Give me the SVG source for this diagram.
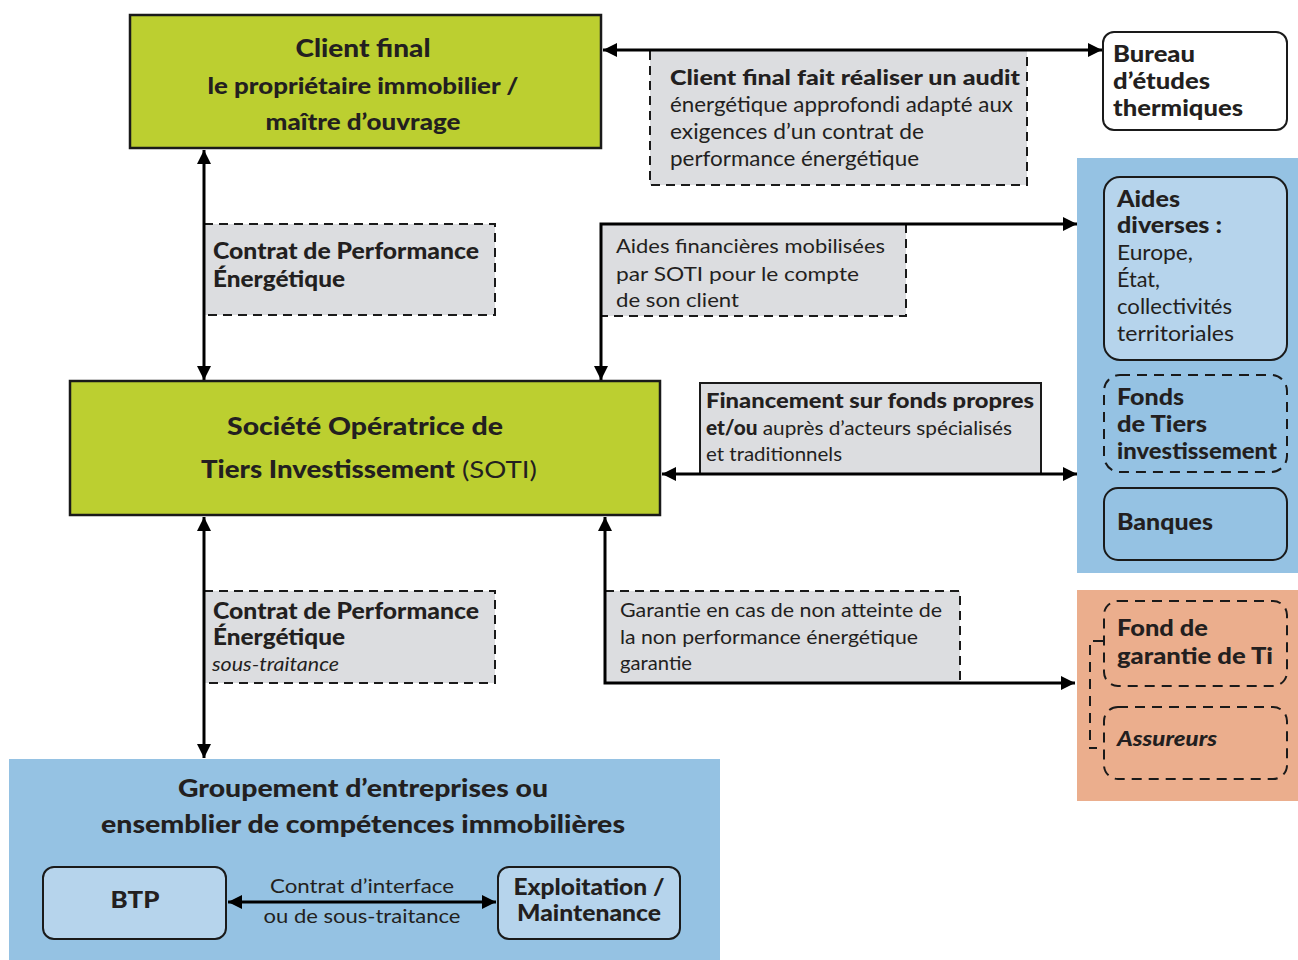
<svg xmlns="http://www.w3.org/2000/svg" width="1298" height="960" viewBox="0 0 1298 960">
  <defs>
    <marker id="ah" viewBox="0 0 10 10" refX="10" refY="5" markerWidth="14" markerHeight="15" markerUnits="userSpaceOnUse" orient="auto-start-reverse">
      <path d="M0,0 L10,5 L0,10 z" fill="#000"/>
    </marker>
  </defs>
  <style>
    text { font-family: Lato, "Liberation Sans", sans-serif; fill: #231f20; }
    .b { font-weight: 900; }
    .i { font-style: italic; }
    .mid { text-anchor: middle; }
    .green { fill: #bccf30; stroke: #1a1a1a; stroke-width: 2.5; }
    .tag { fill: #dcdde0; stroke: none; }
    .dash { fill: none; stroke: #1a1a1a; stroke-width: 2; stroke-dasharray: 9 6; }
    .rbox { stroke: #1a1a1a; stroke-width: 2; }
    .rdash { fill: none; stroke: #1a1a1a; stroke-width: 2; stroke-dasharray: 10 7; }
    .conn { fill: none; stroke: #000; stroke-width: 3; marker-start: url(#ah); marker-end: url(#ah); }
    .t20 { font-size: 20px; }
    .t21 { font-size: 21px; }
    .t22 { font-size: 22px; }
    .t24 { font-size: 24px; }
  </style>

  <!-- background panels -->
  <rect id="panel-financeurs" x="1077" y="158" width="221" height="415" fill="#95c2e3"/>
  <rect id="panel-garanties" x="1077" y="590" width="221" height="211" fill="#ebae8d"/>

  <!-- edge label boxes -->
  <g id="labels" lengthAdjust="spacingAndGlyphs">
    <g id="label-audit">
      <rect class="tag" x="650" y="51" width="377" height="134"/>
      <path class="dash" d="M650,51 V185 H1027 V51"/>
      <text class="t21 b" x="670" y="85" textLength="350" lengthAdjust="spacingAndGlyphs">Client final fait réaliser un audit</text>
      <text class="t21" x="670" y="112" textLength="343" lengthAdjust="spacingAndGlyphs">énergétique approfondi adapté aux</text>
      <text class="t21" x="670" y="139" textLength="254" lengthAdjust="spacingAndGlyphs">exigences d’un contrat de</text>
      <text class="t21" x="670" y="166" textLength="249" lengthAdjust="spacingAndGlyphs">performance énergétique</text>
    </g>
    <g id="label-cpe">
      <rect class="tag" x="204" y="224" width="291" height="91"/>
      <path class="dash" d="M204,224 H495 V315 H204"/>
      <text class="t22 b" x="213" y="259" textLength="266" lengthAdjust="spacingAndGlyphs">Contrat de Performance</text>
      <text class="t22 b" x="213" y="287" textLength="132" lengthAdjust="spacingAndGlyphs">Énergétique</text>
    </g>
    <g id="label-aides">
      <rect class="tag" x="601" y="224" width="305" height="92"/>
      <path class="dash" d="M906,224 V316 H601"/>
      <text class="t20" x="616" y="253" textLength="269" lengthAdjust="spacingAndGlyphs">Aides financières mobilisées</text>
      <text class="t20" x="616" y="281" textLength="243" lengthAdjust="spacingAndGlyphs">par SOTI pour le compte</text>
      <text class="t20" x="616" y="307" textLength="123" lengthAdjust="spacingAndGlyphs">de son client</text>
    </g>
    <g id="label-financement">
      <rect class="tag rbox" x="700" y="383" width="341" height="91"/>
      <text class="t20 b" x="706" y="408" textLength="328" lengthAdjust="spacingAndGlyphs">Financement sur fonds propres</text>
      <text class="t20" x="706" y="435" textLength="306" lengthAdjust="spacingAndGlyphs"><tspan class="b">et/ou</tspan> auprès d’acteurs spécialisés</text>
      <text class="t20" x="706" y="461" textLength="136" lengthAdjust="spacingAndGlyphs">et traditionnels</text>
    </g>
    <g id="label-cpe-st">
      <rect class="tag" x="204" y="591" width="291" height="92"/>
      <path class="dash" d="M204,591 H495 V683 H204"/>
      <text class="t22 b" x="213" y="619" textLength="266" lengthAdjust="spacingAndGlyphs">Contrat de Performance</text>
      <text class="t22 b" x="213" y="645" textLength="132" lengthAdjust="spacingAndGlyphs">Énergétique</text>
      <text class="t20 i" x="212" y="671" textLength="127" lengthAdjust="spacingAndGlyphs">sous-traitance</text>
    </g>
    <g id="label-garantie">
      <rect class="tag" x="605" y="591" width="355" height="92"/>
      <path class="dash" d="M605,591 H960 V683"/>
      <text class="t20" x="620" y="617" textLength="322" lengthAdjust="spacingAndGlyphs">Garantie en cas de non atteinte de</text>
      <text class="t20" x="620" y="644" textLength="298" lengthAdjust="spacingAndGlyphs">la non performance énergétique</text>
      <text class="t20" x="620" y="670" textLength="72" lengthAdjust="spacingAndGlyphs">garantie</text>
    </g>
  </g>

  <!-- connectors -->
  <g id="connectors">
    <path class="conn" d="M603,50 H1102"/>
    <path class="conn" d="M204,150 V380"/>
    <path class="conn" d="M1077,224 H601 V380"/>
    <path class="conn" d="M662,474 H1077"/>
    <path class="conn" d="M204,517 V758"/>
    <path class="conn" d="M605,517 V683 H1075"/>
  </g>

  <!-- main actors -->
  <g id="client-final">
    <rect class="green" x="130" y="15" width="471" height="133"/>
    <text class="t24 b mid" x="363" y="57" textLength="135" lengthAdjust="spacingAndGlyphs">Client final</text>
    <text class="t22 b mid" x="363" y="94" textLength="311" lengthAdjust="spacingAndGlyphs">le propriétaire immobilier /</text>
    <text class="t22 b mid" x="363" y="130" textLength="195" lengthAdjust="spacingAndGlyphs">maître d’ouvrage</text>
  </g>

  <g id="soti">
    <rect class="green" x="70" y="381" width="590" height="134"/>
    <text class="t24 b mid" x="365" y="435" textLength="276" lengthAdjust="spacingAndGlyphs">Société Opératrice de</text>
    <text class="t24 mid" x="369" y="478" textLength="336" lengthAdjust="spacingAndGlyphs"><tspan class="b">Tiers Investissement</tspan> (SOTI)</text>
  </g>

  <g id="bureau-etudes">
    <rect class="rbox" x="1103" y="32" width="184" height="98" rx="11" fill="#fff"/>
    <text class="t22 b" x="1113" y="62" textLength="82" lengthAdjust="spacingAndGlyphs">Bureau</text>
    <text class="t22 b" x="1113" y="89" textLength="97" lengthAdjust="spacingAndGlyphs">d’études</text>
    <text class="t22 b" x="1113" y="116" textLength="130" lengthAdjust="spacingAndGlyphs">thermiques</text>
  </g>

  <g id="aides-diverses">
    <rect class="rbox" x="1104" y="177" width="183" height="183" rx="16" fill="#b6d4ec"/>
    <text class="t22 b" x="1117" y="207" textLength="63" lengthAdjust="spacingAndGlyphs">Aides</text>
    <text class="t22 b" x="1117" y="233" textLength="105" lengthAdjust="spacingAndGlyphs">diverses :</text>
    <text class="t22" x="1117" y="260" textLength="76" lengthAdjust="spacingAndGlyphs">Europe,</text>
    <text class="t22" x="1117" y="287" textLength="43" lengthAdjust="spacingAndGlyphs">État,</text>
    <text class="t22" x="1117" y="314" textLength="115" lengthAdjust="spacingAndGlyphs">collectivités</text>
    <text class="t22" x="1117" y="341" textLength="117" lengthAdjust="spacingAndGlyphs">territoriales</text>
  </g>

  <g id="fonds-tiers">
    <rect class="rdash" x="1104" y="375" width="183" height="97" rx="16"/>
    <text class="t22 b" x="1117" y="405" textLength="67" lengthAdjust="spacingAndGlyphs">Fonds</text>
    <text class="t22 b" x="1117" y="432" textLength="90" lengthAdjust="spacingAndGlyphs">de Tiers</text>
    <text class="t22 b" x="1117" y="459" textLength="160" lengthAdjust="spacingAndGlyphs">investissement</text>
  </g>

  <g id="banques">
    <rect class="rbox" x="1104" y="488" width="183" height="72" rx="14" fill="#95c2e3"/>
    <text class="t22 b" x="1117" y="530" textLength="96" lengthAdjust="spacingAndGlyphs">Banques</text>
  </g>

  <g id="fond-garantie">
    <rect class="rdash" x="1104" y="601" width="183" height="85" rx="14"/>
    <text class="t22 b" x="1117" y="636" textLength="91" lengthAdjust="spacingAndGlyphs">Fond de</text>
    <text class="t22 b" x="1117" y="664" textLength="156" lengthAdjust="spacingAndGlyphs">garantie de Ti</text>
  </g>

  <g id="assureurs">
    <rect class="rdash" x="1104" y="707" width="183" height="72" rx="14"/>
    <text class="t20 b i" x="1117" y="746" textLength="100" lengthAdjust="spacingAndGlyphs">Assureurs</text>
  </g>

  <!-- bracket grouping the guarantors -->
  <path class="rdash" d="M1103,641 H1090 V748 H1097"/>

  <g id="groupement">
    <rect x="9" y="759" width="711" height="201" fill="#95c2e3"/>
    <text class="t24 b mid" x="363" y="797" textLength="370" lengthAdjust="spacingAndGlyphs">Groupement d’entreprises ou</text>
    <text class="t24 b mid" x="363" y="833" textLength="524" lengthAdjust="spacingAndGlyphs">ensemblier de compétences immobilières</text>
    <g id="btp">
      <rect class="rbox" x="43" y="867" width="183" height="72" rx="11" fill="#b6d4ec"/>
      <text class="t22 b mid" x="135" y="908" textLength="49" lengthAdjust="spacingAndGlyphs">BTP</text>
    </g>
    <g id="exploitation">
      <rect class="rbox" x="498" y="867" width="182" height="72" rx="11" fill="#b6d4ec"/>
      <text class="t22 b mid" x="589" y="895" textLength="151" lengthAdjust="spacingAndGlyphs">Exploitation /</text>
      <text class="t22 b mid" x="589" y="921" textLength="144" lengthAdjust="spacingAndGlyphs">Maintenance</text>
    </g>
    <path class="conn" d="M228,902 H496"/>
    <text class="t20 mid" x="362" y="893" textLength="184" lengthAdjust="spacingAndGlyphs">Contrat d’interface</text>
    <text class="t20 mid" x="362" y="923" textLength="197" lengthAdjust="spacingAndGlyphs">ou de sous-traitance</text>
  </g>
</svg>
